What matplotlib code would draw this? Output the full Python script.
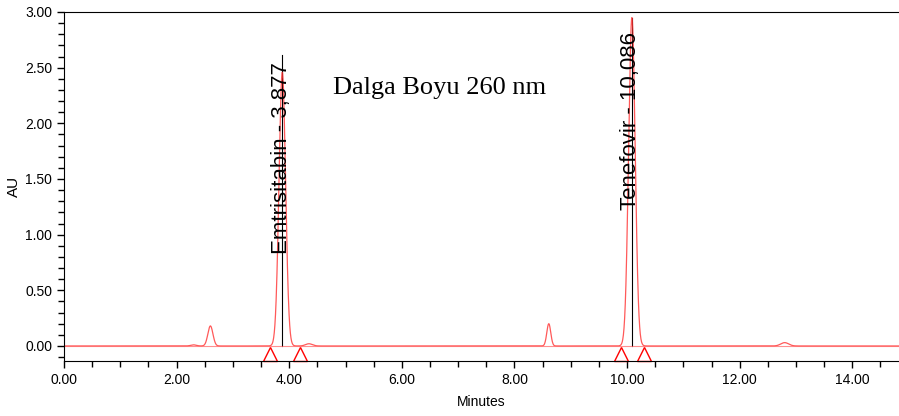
import numpy as np
import matplotlib.pyplot as plt
from matplotlib.ticker import MultipleLocator, FormatStrFormatter

# peaks: retention time (min), height (AU), width (min)
peak_times = [2.30, 2.60, 3.877, 4.35, 8.61, 10.086, 12.80]
peak_heights = [0.01, 0.18, 2.46, 0.02, 0.20, 2.95, 0.03]
peak_widths = [0.05, 0.045, 0.058, 0.06, 0.035, 0.058, 0.07]

# labelled peaks
label_names = ['Emtrisitabin - 3,877', 'Tenefovir - 10,086']
label_times = [3.877, 10.086]
label_tops = [2.61, 2.95]

# integration start/end markers
marker_times = [3.65, 4.20, 9.90, 10.30]

plt.rcParams['font.family'] = ['Liberation Sans', 'DejaVu Sans']

t = np.linspace(0, 14.83, 4000)
signal = np.zeros_like(t)
for rt, h, w in zip(peak_times, peak_heights, peak_widths):
    signal += h * np.exp(-0.5 * ((t - rt) / w) ** 2)

fig = plt.figure(figsize=(8.99, 4.16), dpi=100)
ax = fig.add_axes([64 / 899, 1 - 361 / 416, (899 - 64) / 899, (361 - 12) / 416])

ax.plot(t, signal, color='#ff3030', lw=0.9, alpha=0.8)
ax.axhline(0, color='#ff6060', lw=0.8, alpha=0.7)

# peak markers and labels (text gap below the line top differs per peak)
for name, rt, top, gap in zip(label_names, label_times, label_tops, (0.06, 0.13)):
    ax.plot([rt, rt], [0, top], color='black', lw=0.8, zorder=1)
    ax.text(rt - 0.02, top - gap, name, rotation=90, ha='center', va='top',
            fontsize=16, color='black')

ax.plot(marker_times, [-0.075] * len(marker_times), linestyle='none', marker='^',
        markersize=10, markerfacecolor='none', markeredgecolor='red',
        markeredgewidth=1.0, clip_on=False)

ax.text(4.78, 2.32, 'Dalga Boyu 260 nm', fontsize=19, family='Liberation Serif',
        va='center', ha='left')

ax.set_xlim(0, 14.83)
ax.set_ylim(-0.135, 3.0)
ax.xaxis.set_major_locator(MultipleLocator(2))
ax.xaxis.set_minor_locator(MultipleLocator(0.5))
ax.yaxis.set_major_locator(MultipleLocator(0.5))
ax.yaxis.set_minor_locator(MultipleLocator(0.1))
ax.xaxis.set_major_formatter(FormatStrFormatter('%.2f'))
ax.yaxis.set_major_formatter(FormatStrFormatter('%.2f'))
ax.tick_params(which='both', direction='out', labelsize=10, width=1)
ax.tick_params(which='major', length=5)
ax.tick_params(which='minor', length=4)
ax.spines['right'].set_visible(False)
ax.set_xlabel('Minutes', fontsize=10, labelpad=6)
ax.set_ylabel('AU', fontsize=11, labelpad=3)

fig.savefig('out.png', dpi=100)
